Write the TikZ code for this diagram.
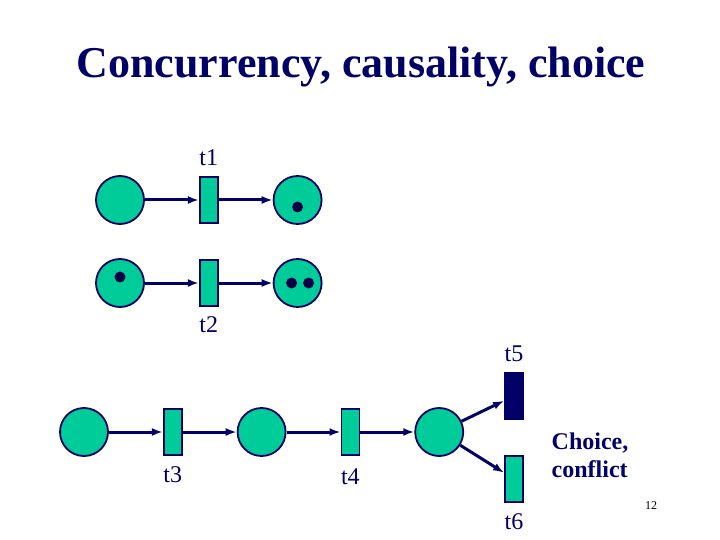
\documentclass[tikz,border=0pt]{standalone}
\usepackage{fontspec}
\setmainfont{Liberation Serif}
\definecolor{PNNavy}{RGB}{0, 0, 102}
\definecolor{PNTeal}{RGB}{0, 204, 153}
\usetikzlibrary{arrows.meta, positioning}

\begin{document}
\begin{tikzpicture}[
          x=1pt, y=-1pt,
          node distance=54pt,
          place/.style={
            circle,
            draw=PNNavy,
            line width=1.8pt,
            fill=PNTeal,
            minimum size=48pt,
            inner sep=0pt
          },
          trans/.style={
            rectangle,
            draw=PNNavy,
            line width=1.8pt,
            fill=PNTeal,
            minimum width=18pt,
            minimum height=46pt,
            inner sep=0pt
          },
          fired/.style={trans, fill=PNNavy},
          token/.style={PNNavy!70!black},
          lbl/.style={text=PNNavy, font=\fontsize{24}{28}\selectfont, inner sep=0pt},
          arrow/.style={-{Latex[length=11pt, width=8pt]}, line width=3pt, PNNavy}
        ]
        \useasboundingbox (0,0) rectangle (720,540);
        \node[text=PNNavy, font=\fontsize{44}{52}\selectfont\bfseries] (title) at (361,67) {Concurrency, causality, choice};

        % concurrency
        \node[place] (pa1) at (120,200) {};
        \node[trans, right=of pa1] (t1) {};
        \node[place, right=of t1] (pa2) {};
        \node[place] (pb1) at (120,283) {};
        \node[trans, right=of pb1] (t2) {};
        \node[place, right=of t2] (pb2) {};
        \node[lbl, above=10pt of t1] (t1lbl) {t1};
        \node[lbl, below=10pt of t2] (t2lbl) {t2};
        \draw[arrow] (pa1) -- (t1);
        \draw[arrow] (t1) -- (pa2);
        \draw[arrow] (pb1) -- (t2);
        \draw[arrow] (t2) -- (pb2);
        \fill[token] ([yshift=-7pt]pa2.center) circle (5.5pt);
        \fill[token] ([yshift=6pt]pb1.center) circle (5.5pt);
        \fill[token] ([xshift=-6pt]pb2.center) circle (5.5pt);
        \fill[token] ([xshift=11pt]pb2.center) circle (5.5pt);

        % causality and choice
        \node[place] (pc1) at (84,432) {};
        \node[trans, right=of pc1] (t3) {};
        \node[place, right=of t3] (pc2) {};
        \node[trans, right=of pc2] (t4) {};
        \node[place, right=of t4] (pc3) {};
        \node[fired] (t5) at (514,396) {};
        \node[trans] (t6) at (514,479) {};
        \node[lbl, below=11pt of t3] (t3lbl) {t3};
        \node[lbl, below=13pt of t4] (t4lbl) {t4};
        \node[lbl, above=10pt of t5] (t5lbl) {t5};
        \node[lbl, below=11pt of t6] (t6lbl) {t6};
        \draw[arrow] (pc1) -- (t3);
        \draw[arrow] (t3) -- (pc2);
        \draw[arrow] (pc2) -- (t4);
        \draw[arrow] (t4) -- (pc3);
        \draw[arrow] (pc3) -- (t5);
        \draw[arrow] (pc3) -- (t6);
        \node[text=PNNavy, align=left, font=\fontsize{24}{28}\selectfont\bfseries] (choice) at (590,455) {Choice,\\conflict};
        \node[font=\fontsize{12}{14}\selectfont] (pagenum) at (651,506) {12};
      \end{tikzpicture}
\end{document}
